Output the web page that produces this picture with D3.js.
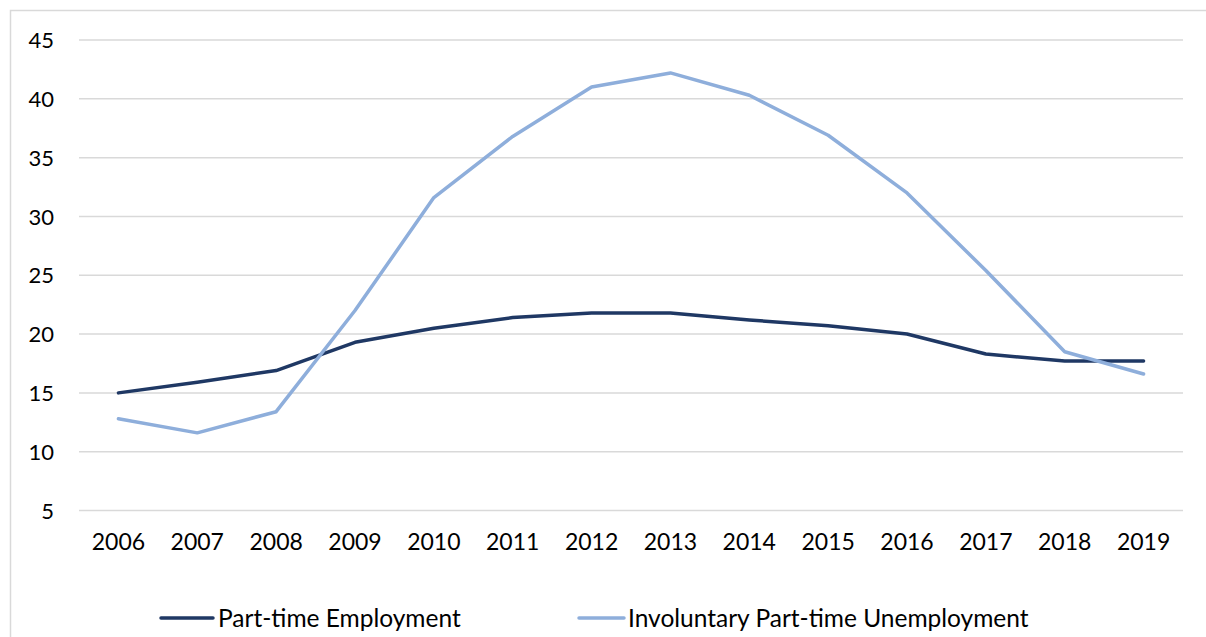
<!DOCTYPE html>
<html>
<head>
<meta charset="utf-8">
<script src="https://cdn.jsdelivr.net/npm/d3@7"></script>
<style>
  html, body { margin: 0; padding: 0; background: #fff; }
  svg { display: block; }
  text { font-family: Lato, "Open Sans", sans-serif; fill: #000; }
</style>
</head>
<body>
<svg id="chart" width="1206" height="637"></svg>
<script>
const years = ["2006","2007","2008","2009","2010","2011","2012","2013","2014","2015","2016","2017","2018","2019"];
const partTimeEmployment = [15.0, 15.9, 16.9, 19.3, 20.5, 21.4, 21.8, 21.8, 21.2, 20.7, 20.0, 18.3, 17.7, 17.7];
const involuntaryPartTime = [12.8, 11.6, 13.4, 22.0, 31.6, 36.8, 41.0, 42.2, 40.3, 36.9, 32.0, 25.4, 18.5, 16.6];
const yTicks = [5, 10, 15, 20, 25, 30, 35, 40, 45];
const seriesNames = ["Part-time Employment", "Involuntary Part-time Unemployment"];
const seriesColors = ["#1f3864", "#8eaedb"];

const svg = d3.select("#chart");
const W = 1206, H = 637;

// outer chart border (top & left visible)
svg.append("path")
  .attr("d", `M10.5,${H} L10.5,10.5 L${W},10.5`)
  .attr("fill", "none").attr("stroke", "#d9d9d9").attr("stroke-width", 1.5);

const x = d3.scaleBand().domain(years).range([79, 1183]);
const y = d3.scaleLinear().domain([5, 45]).range([510.5, 40]);

// gridlines
svg.append("g").selectAll("line").data(yTicks).join("line")
  .attr("x1", 79).attr("x2", 1183)
  .attr("y1", d => y(d)).attr("y2", d => y(d))
  .attr("stroke", "#d9d9d9").attr("stroke-width", 1.5);

// y axis labels
const yAxis = d3.axisLeft(y).tickValues(yTicks).tickSize(0).tickPadding(0);
const gy = svg.append("g").attr("transform", "translate(54,0)").call(yAxis);
gy.select(".domain").remove();
gy.selectAll("text").style("font-size", "22px").style("font-family", "Lato, 'Open Sans', sans-serif").attr("fill", "#000").attr("dy", "0.35em");

// x axis labels
const xAxis = d3.axisBottom(x).tickSize(0).tickPadding(0);
const gx = svg.append("g").attr("transform", "translate(0,534)").call(xAxis);
gx.select(".domain").remove();
gx.selectAll("text").style("font-size", "23px").style("font-family", "Lato, 'Open Sans', sans-serif").attr("fill", "#000").attr("dy", "0.71em");

const line = d3.line().x((d, i) => x(years[i]) + x.bandwidth() / 2).y(d => y(d));

[partTimeEmployment, involuntaryPartTime].forEach((s, k) => {
  svg.append("path").datum(s)
    .attr("d", line)
    .attr("fill", "none")
    .attr("stroke", seriesColors[k])
    .attr("stroke-width", 3.5)
    .attr("stroke-linejoin", "round")
    .attr("stroke-linecap", "round");
});

// legend
const legendItems = [
  {x1: 161, x2: 213, tx: 218},
  {x1: 579, x2: 624, tx: 628}
];
legendItems.forEach((it, k) => {
  svg.append("line").attr("x1", it.x1).attr("x2", it.x2).attr("y1", 618).attr("y2", 618)
    .attr("stroke", seriesColors[k]).attr("stroke-width", 3.5).attr("stroke-linecap", "round");
  svg.append("text").attr("x", it.tx).attr("y", 618).attr("dy", "0.35em")
    .style("font-size", "24.5px").text(seriesNames[k]);
});
</script>
</body>
</html>
